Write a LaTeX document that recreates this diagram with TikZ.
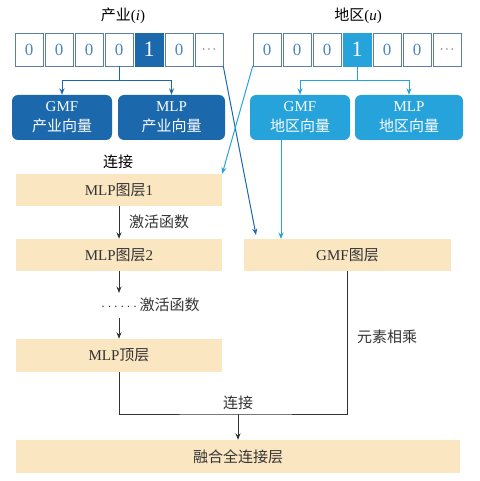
\documentclass[tikz,border=0pt]{standalone}
\usepackage{fontspec}
\setmainfont{Liberation Serif}
\newfontfamily\cjk{Noto Sans CJK SC}
\usetikzlibrary{arrows.meta}
\definecolor{dblue}{HTML}{1B68AD}
\definecolor{lblue}{HTML}{26A3DB}
\definecolor{cream}{HTML}{FBE6C2}
\definecolor{numc}{HTML}{4A86C0}
\definecolor{boxb}{HTML}{5A7FA8}
\definecolor{dk}{HTML}{333333}
\begin{document}
\begin{tikzpicture}[x=1pt,y=-1pt, font=\fontsize{15}{20}\selectfont,
 cell/.style={draw=boxb, line width=0.6pt, minimum width=28pt, minimum height=33pt, inner sep=0pt, text=numc, font=\fontsize{17}{17}\selectfont},
 hot/.style={cell, fill=#1, draw=#1, text=white, font=\fontsize{22}{22}\selectfont},
 emb/.style={fill=#1, rounded corners=6pt, minimum height=45pt, inner sep=0pt, text=white, align=center},
 layer/.style={fill=cream, minimum height=32pt, inner sep=0pt, text=dk},
 arr/.style={-{Stealth[length=6.5pt,width=5pt]}, line width=1pt},
 lab/.style={inner sep=0pt, text=dk}]
\useasboundingbox (0,0) rectangle (479,481);
% titles
\node[lab, text=black] (ti) at (123,16) {{\cjk 产业}(\textit{i})};
\node[lab, text=black] (tu) at (358,16) {{\cjk 地区}(\textit{u})};
% one-hot vectors
\node[cell] (l1) at (29,49.5) {0};
\node[cell] (l2) at (59,49.5) {0};
\node[cell] (l3) at (89,49.5) {0};
\node[cell] (l4) at (119,49.5) {0};
\node[hot=dblue] (l5) at (149,49.5) {1};
\node[cell] (l6) at (179,49.5) {0};
\node[cell, text=dk, font=\fontsize{13}{13}\selectfont] (l7) at (209,49.5) {$\cdots$};
\node[cell] (r1) at (267,49.5) {0};
\node[cell] (r2) at (297,49.5) {0};
\node[cell] (r3) at (327,49.5) {0};
\node[hot=lblue] (r4) at (357,49.5) {1};
\node[cell] (r5) at (387,49.5) {0};
\node[cell] (r6) at (417,49.5) {0};
\node[cell, text=dk, font=\fontsize{13}{13}\selectfont] (r7) at (447,49.5) {$\cdots$};
% embeddings
\node[emb=dblue, minimum width=100pt] (gi) at (62,117.5) {GMF\\{\cjk 产业向量}};
\node[emb=dblue, minimum width=107pt] (mi) at (171.5,117.5) {MLP\\{\cjk 产业向量}};
\node[emb=lblue, minimum width=100pt] (gu) at (300,117.5) {GMF\\{\cjk 地区向量}};
\node[emb=lblue, minimum width=108pt] (mu) at (409,117.5) {MLP\\{\cjk 地区向量}};
% layers
\node[lab, text=black] (cat1) at (118,162) {\cjk 连接};
\node[layer, minimum width=206pt] (m1) at (119,190) {MLP{\cjk 图层}1};
\node[layer, minimum width=206pt] (m2) at (119,255) {MLP{\cjk 图层}2};
\node[layer, minimum width=207pt] (gl) at (347.5,255) {GMF{\cjk 图层}};
\node[layer, minimum width=206pt, minimum height=33pt] (mt) at (119,355.5) {MLP{\cjk 顶层}};
\node[layer, minimum width=444pt, minimum height=33pt] (fc) at (238,456.5) {\cjk 融合全连接层};
% labels
\node[lab, anchor=west] (act1) at (129,222) {\cjk 激活函数};
\node[lab, anchor=west] (act2) at (101,305) {$\cdots\cdots$\,{\cjk 激活函数}};
\node[lab] (mul) at (387,337) {\cjk 元素相乘};
\node[lab] (cat2) at (238,403) {\cjk 连接};
% connectors top
\draw[dblue, line width=1pt] (l4.south) -- ++(0,14) coordinate (lj);
\draw[arr, dblue] (lj) -| (gi.north);
\draw[arr, dblue] (lj) -| (mi.north);
\draw[lblue, line width=1pt] (r4.south) -- ++(0,14) coordinate (rj);
\draw[arr, lblue] (rj) -| (gu.north);
\draw[arr, lblue] (rj) -| (mu.north);
\coordinate (t1) at (256,235);
\coordinate (t2) at (281,239);
\draw[arr, dblue] (l7.south east) -- (t1);
\draw[arr, lblue] (r1.south west) -- (m1.north east);
\draw[arr, lblue] (gu.south -| t2) -- (t2);
% dark connectors
\draw[arr, dk] (m1.south) -- (m2.north);
\coordinate (a2) at (119,293);
\draw[arr, dk] (m2.south) -- (a2);
\coordinate (a3) at (119,318);
\draw[arr, dk] (a3) -- (mt.north);
\coordinate (j) at (238,414);
\draw[dk, line width=1pt] (mt.south) |- (j) -| (gl.south);
\draw[arr, dk] (j) -- (fc.north);
\end{tikzpicture}
\end{document}
